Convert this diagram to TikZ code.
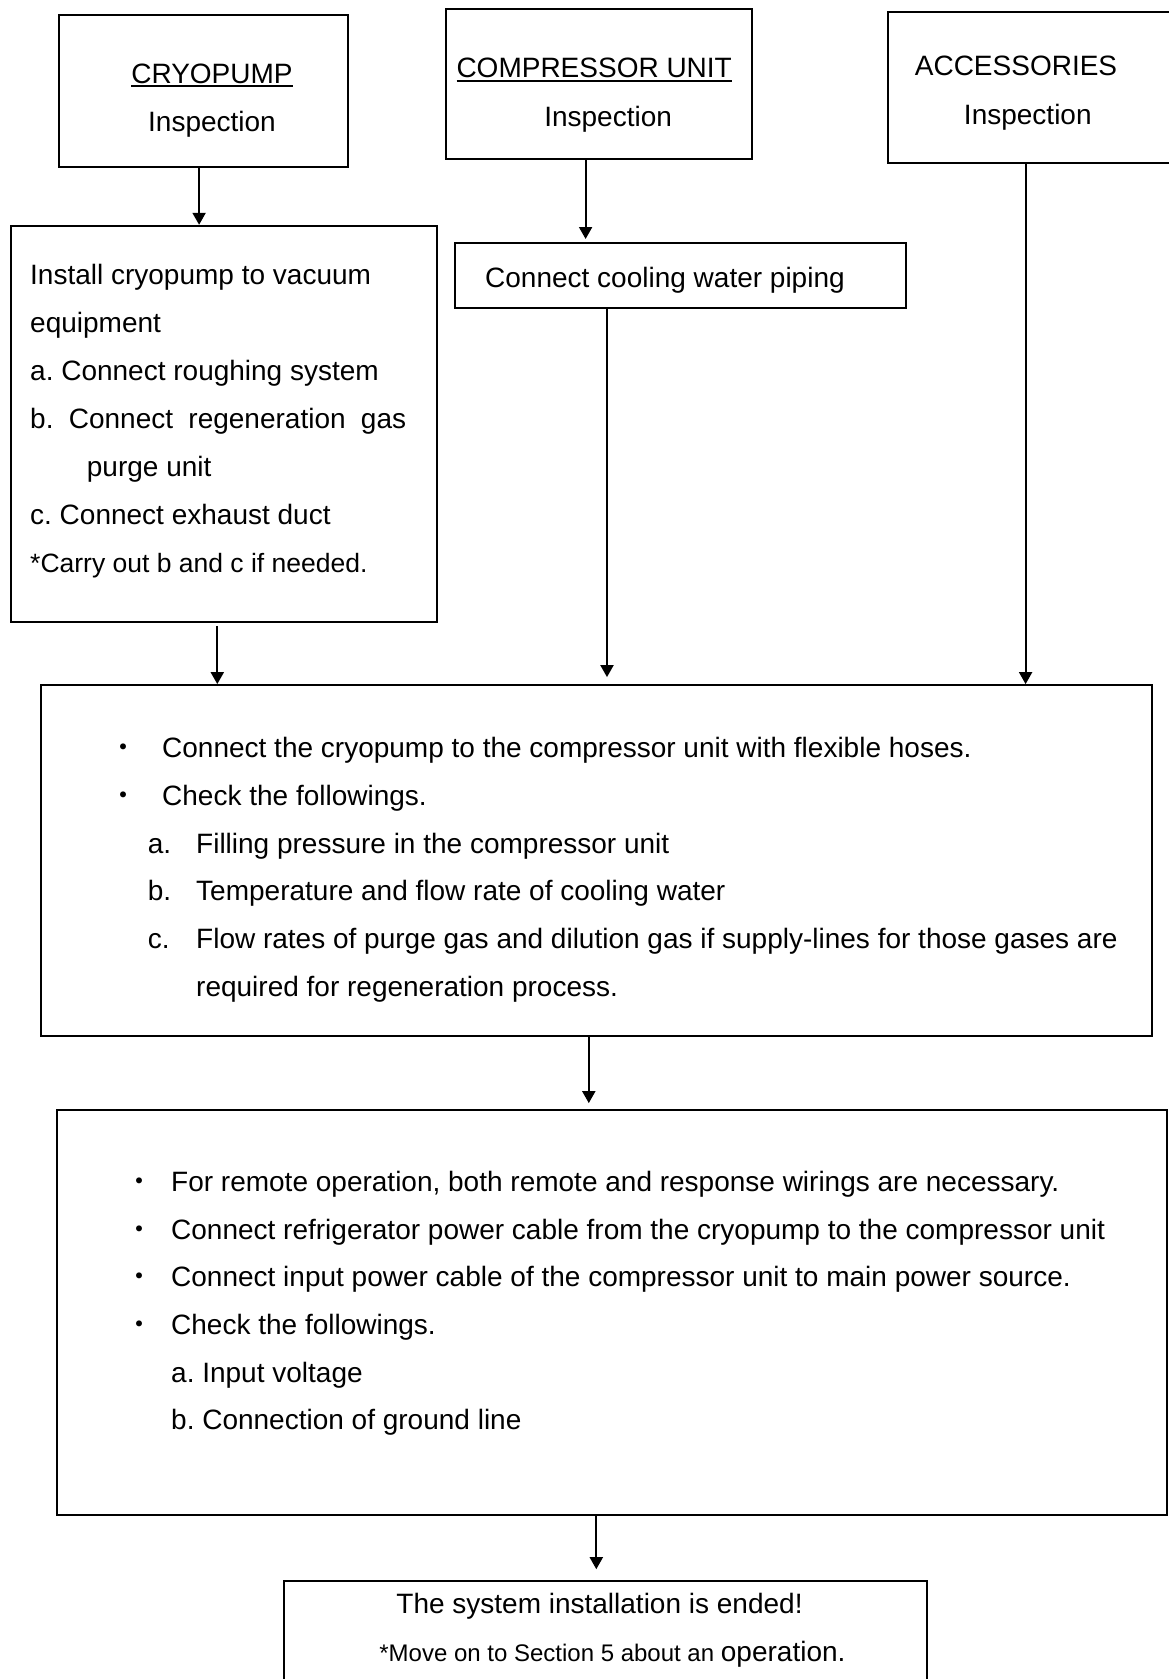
\documentclass[tikz,border=0pt]{standalone}
\usepackage{fontspec}
\setmainfont{Liberation Sans}
\newfontfamily\cjk{Noto Sans CJK JP}
\usetikzlibrary{arrows.meta}
\frenchspacing
\newcommand\myul[1]{\setbox0\hbox{#1}\rlap{\rule[-3.6pt]{\wd0}{1.8pt}}\box0}
\tikzset{
  box/.style={draw=black, line width=2pt, rectangle, inner sep=0pt, anchor=north west},
  arr/.style={line width=2pt, -{Triangle[width=13pt,length=12pt]}},
  txt/.style={anchor=base west, inner sep=0pt, font=\fontsize{28}{34}\selectfont},
  ctxt/.style={anchor=base, inner sep=0pt, font=\fontsize{28}{34}\selectfont},
  smalltxt/.style={font=\fontsize{26.5}{30}\selectfont},
  bul/.style={anchor=base, inner sep=0pt, font=\cjk\fontsize{28}{34}\selectfont},
}
\begin{document}
\frenchspacing
\begin{tikzpicture}[x=1pt,y=-1pt]
\useasboundingbox (0,0) rectangle (1168,1679);
\fill[white] (0,0) rectangle (1168,1679);

% boxes
\node[box, minimum width=289.1pt, minimum height=152pt] (cryo) at (57.8,13.9) {};
\node[box, minimum width=305.1pt, minimum height=150.9pt] (comp) at (445.4,7.5) {};
\node[box, minimum width=320pt, minimum height=151pt] (acc) at (886.5,10.7) {};
\node[box, minimum width=426.1pt, minimum height=396.1pt] (install) at (9.6,224.8) {};
\node[box, minimum width=450.8pt, minimum height=65.3pt] (cool) at (453.9,242) {};
\node[box, minimum width=1111.3pt, minimum height=351.2pt] (big1) at (39.6,684.1) {};
\node[box, minimum width=1110.2pt, minimum height=404.7pt] (big2) at (55.7,1109.1) {};
\node[box, minimum width=643.5pt, minimum height=140pt] (final) at (282.6,1580.2) {};

% connector x positions
\coordinate (a1) at (199.1,0);
\coordinate (a2) at (585.6,0);
\coordinate (a3) at (1025.6,0);
\coordinate (a4) at (217.3,0);
\coordinate (a5) at (607,0);
\coordinate (a6) at (588.8,0);
\coordinate (a7) at (596.3,0);

\draw[arr] (cryo.south -| a1) -- (install.north -| a1);
\draw[arr, shorten >=3pt] (comp.south -| a2) -- (cool.north -| a2);
\draw[arr] (acc.south -| a3) -- (big1.north -| a3);
\draw[arr, shorten <=3pt] (install.south -| a4) -- (big1.north -| a4);
\draw[arr, shorten >=7pt] (cool.south -| a5) -- (big1.north -| a5);
\draw[arr, shorten >=6pt] (big1.south -| a6) -- (big2.north -| a6);
\draw[arr, shorten >=11pt] (big2.south -| a7) -- (final.north -| a7);

% top boxes text
\node[ctxt] (cryoT1) at (212,83.3) {\myul{CRYOPUMP}};
\node[ctxt] (cryoT2) at (212,131.5) {Inspection};
\node[ctxt] (compT1) at (594.2,77.9) {\myul{COMPRESSOR UNIT}};
\node[ctxt] (compT2) at (608.1,126.1) {Inspection};
\node[ctxt] (accT1) at (1016,75.8) {ACCESSORIES};
\node[ctxt] (accT2) at (1027.8,124) {Inspection};

% install box text
\node[txt] (inT1) at (30,284.5) {Install cryopump to vacuum};
\node[txt] (inT2) at (30,332.5) {equipment};
\node[txt] (inT3) at (30,380.5) {a. Connect roughing system};
\node[txt] (inT4) at (30,428.5) {\makebox[376pt][s]{b.\ Connect regeneration gas}};
\node[txt] (inT5) at (86.7,476.5) {purge unit};
\node[txt] (inT6) at (30,524.5) {c. Connect exhaust duct};
\node[txt, smalltxt] (inT7) at (30,572.5) {*Carry out b and c if needed.};

% cooling
\node[txt] (coolT) at (485,287.8) {Connect cooling water piping};

% big box 1
\node[bul] (b1d1) at (123,757.8) {・};
\node[txt] (b1t1) at (162,757.8) {Connect the cryopump to the compressor unit with flexible hoses.};
\node[bul] (b1d2) at (123,805.5) {・};
\node[txt] (b1t2) at (162,805.5) {Check the followings.};
\node[txt] (b1la) at (147.7,853.2) {a.};
\node[txt] (b1ta) at (196,853.2) {Filling pressure in the compressor unit};
\node[txt] (b1lb) at (147.7,900.9) {b.};
\node[txt] (b1tb) at (196,900.9) {Temperature and flow rate of cooling water};
\node[txt] (b1lc) at (147.7,948.6) {c.};
\node[txt] (b1tc) at (196,948.6) {Flow rates of purge gas and dilution gas if supply-lines for those gases are};
\node[txt] (b1td) at (196,996.3) {required for regeneration process.};

% big box 2
\node[bul] (b2d1) at (139,1191.4) {・};
\node[txt] (b2t1) at (171,1191.4) {For remote operation, both remote and response wirings are necessary.};
\node[bul] (b2d2) at (139,1239.1) {・};
\node[txt] (b2t2) at (171,1239.1) {Connect refrigerator power cable from the cryopump to the compressor unit};
\node[bul] (b2d3) at (139,1286.8) {・};
\node[txt] (b2t3) at (171,1286.8) {Connect input power cable of the compressor unit to main power source.};
\node[bul] (b2d4) at (139,1334.5) {・};
\node[txt] (b2t4) at (171,1334.5) {Check the followings.};
\node[txt] (b2t5) at (171,1382.2) {a. Input voltage};
\node[txt] (b2t6) at (171,1429.9) {b. Connection of ground line};

% final box
\node[ctxt] (finT1) at (599.5,1613.2) {The system installation is ended!};
\node[ctxt] (finT2) at (612.4,1661.4) {{\fontsize{24}{28}\selectfont *Move on to Section 5 about an }operation.};
\end{tikzpicture}
\end{document}
